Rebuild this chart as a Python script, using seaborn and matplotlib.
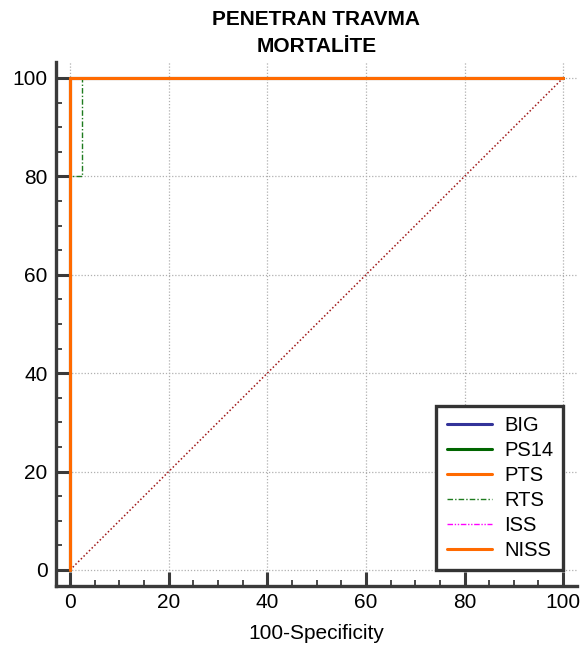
import matplotlib
matplotlib.use("Agg")
import matplotlib.pyplot as plt
from matplotlib.ticker import MultipleLocator
import seaborn as sns
import pandas as pd

sns.set_theme(style="white")
plt.rcParams["font.family"] = ["Liberation Sans", "DejaVu Sans"]
plt.rcParams["text.color"] = "black"
plt.rcParams["axes.labelcolor"] = "black"

# ROC curves: 100-Specificity (x) vs Sensitivity (y)
series_names = ["BIG", "PS14", "PTS", "RTS", "ISS", "NISS"]
big_x = [0, 0, 100]
big_y = [0, 100, 100]
ps14_x = [0, 0, 100]
ps14_y = [0, 100, 100]
pts_x = [0, 0, 100]
pts_y = [0, 100, 100]
rts_x = [0, 0, 2.5, 2.5, 100]
rts_y = [0, 80, 80, 100, 100]
iss_x = [0, 0, 100]
iss_y = [0, 100, 100]
niss_x = [0, 0, 100]
niss_y = [0, 100, 100]
ref_x = [0, 100]
ref_y = [0, 100]

xticks = [0, 20, 40, 60, 80, 100]
yticks = [0, 20, 40, 60, 80, 100]

styles = {
    "BIG":  dict(color="#333399", lw=2.2, ls="-"),
    "PS14": dict(color="#006600", lw=2.2, ls="-"),
    "PTS":  dict(color="#FF6A00", lw=2.2, ls="-"),
    "RTS":  dict(color="#1E7B1E", lw=1.0, ls=(0, (4, 1.5, 1, 1.5))),
    "ISS":  dict(color="#FF00FF", lw=1.0, ls=(0, (4, 1.2, 1, 1.2, 1, 1.2))),
    "NISS": dict(color="#FF6A00", lw=2.2, ls="-"),
}
data = {
    "BIG": (big_x, big_y), "PS14": (ps14_x, ps14_y), "PTS": (pts_x, pts_y),
    "RTS": (rts_x, rts_y), "ISS": (iss_x, iss_y), "NISS": (niss_x, niss_y),
}

fig = plt.figure(figsize=(5.84, 6.49), dpi=100)
ax = fig.add_axes([0.0959, 0.0971, 0.892, 0.8074])

# chance diagonal
sns.lineplot(x=ref_x, y=ref_y, ax=ax, color="#A01818", lw=1.1,
             linestyle=(0, (1, 1.5)), sort=False, estimator=None, zorder=2)

for name in series_names:
    xs, ys = data[name]
    st = styles[name]
    df = pd.DataFrame({"x": xs, "y": ys})
    z = 4 if name == "RTS" else 3
    if name == "NISS":
        z = 5
    sns.lineplot(data=df, x="x", y="y", ax=ax, color=st["color"], lw=st["lw"],
                 linestyle=st["ls"], sort=False, estimator=None, label=name,
                 zorder=z)

ax.set_xlim(-2.85, 102.8)
ax.set_ylim(-3.25, 103.25)
ax.set_xticks(xticks)
ax.set_yticks(yticks)
ax.xaxis.set_minor_locator(MultipleLocator(5))
ax.yaxis.set_minor_locator(MultipleLocator(5))
ax.tick_params(which="major", direction="in", length=10, width=2.2,
               color="#3a3a3a", labelsize=15, pad=5, labelcolor="black")
ax.tick_params(which="minor", direction="in", length=4, width=1.3,
               color="#3a3a3a")
ax.tick_params(axis="y", which="major", pad=6)
ax.tick_params(axis="x", bottom=True, which="both")
ax.tick_params(axis="y", left=True, which="both")

for s in ["top", "right"]:
    ax.spines[s].set_visible(False)
for s in ["left", "bottom"]:
    ax.spines[s].set_color("#3a3a3a")
    ax.spines[s].set_linewidth(2.4)

ax.grid(True, which="major", color="#b0b0b0", linestyle=(0, (1, 1.5)), lw=0.9)
ax.set_axisbelow(True)

ax.set_xlabel("100-Specificity", fontsize=15, labelpad=9, color="black")
ax.set_ylabel("")
ax.set_title("PENETRAN TRAVMA\nMORTALİTE", fontsize=15, fontweight="bold",
             pad=7.5, linespacing=1.5, color="black")

leg = ax.legend(loc="lower right", bbox_to_anchor=(100, 0),
                bbox_transform=ax.transData, fontsize=14.5,
                frameon=True, fancybox=False, handlelength=2.25,
                borderpad=0.5, labelspacing=0.3, handletextpad=0.6,
                borderaxespad=0.0)
for t in leg.get_texts():
    t.set_color("black")
frame = leg.get_frame()
frame.set_edgecolor("#333333")
frame.set_linewidth(2.4)
frame.set_facecolor("white")
frame.set_alpha(1)
leg.set_zorder(10)

fig.savefig("out.png", dpi=100)
